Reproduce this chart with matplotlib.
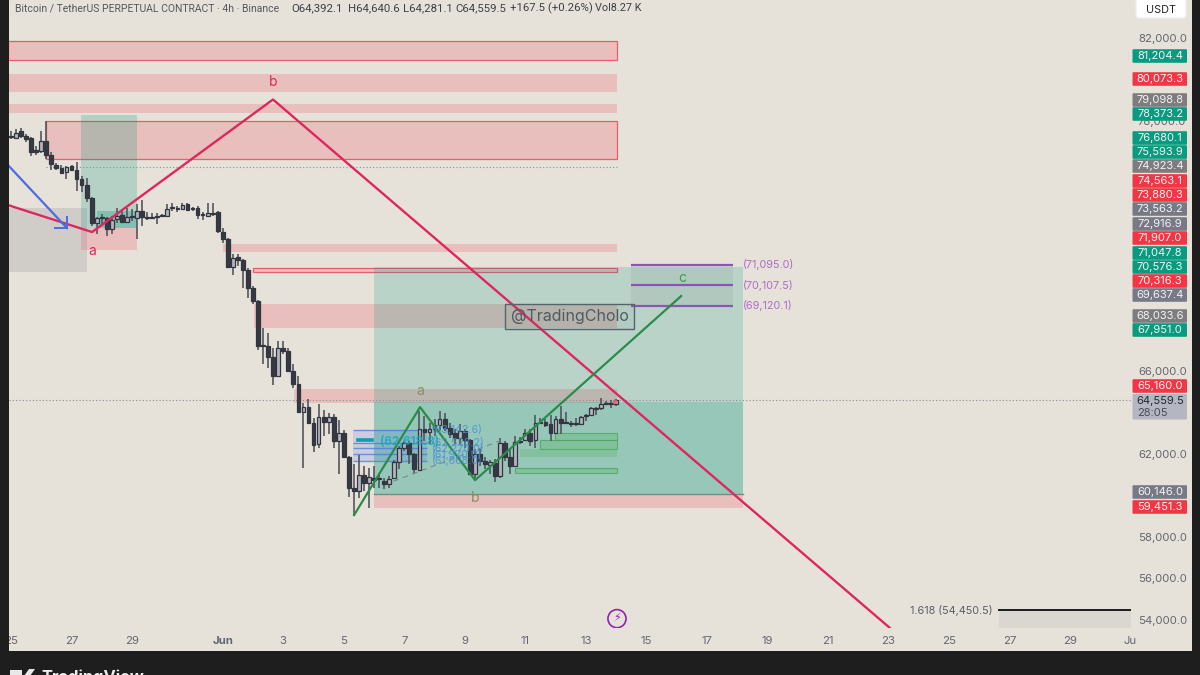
import numpy as np
import matplotlib
matplotlib.use('Agg')
import matplotlib.pyplot as plt
from matplotlib.patches import Rectangle, FancyBboxPatch, Polygon

plt.rcParams['font.family'] = ['Inter', 'DejaVu Sans']

# 4h candles, one every 1/6 day starting 25 May
opens = [77320,77225,77520,77320,77225,76650,76600,77080,76410,75920,75780,75590,75880,75685,75250,74960,74335,73130,73420,73370,
         72840,73320,73515,73180,73465,73370,73710,73420,73420,73465,73515,73465,73900,73855,73805,74045,73855,73855,73565,73465,
         73610,73660,72700,72360,71010,71490,71345,70865,69990,69370,67250,67200,66670,65755,67105,66960,65995,65370,64020,64260,
         63490,62475,63780,63540,63780,62620,63005,61855,60360,60220,60990,60600,60845,60845,60700,60555,60845,61610,62285,62525,
         61995,61230,63200,63050,63200,63395,63685,63250,63005,62765,63105,62670,61035,61995,61660,61470,61560,60940,62525,61855,
         61420,62620,62670,63005,62670,63540,63540,63440,63005,63685,63540,63490,63490,63440,63830,63875,64210,64210,64405,64455,64392.1]
highs = [77565,77660,77710,77420,77250,76840,77520,78000,76510,76020,75920,75880,75920,76070,75395,75300,74380,73420,73565,73420,
         73465,73855,73710,73855,73805,74045,74240,73660,73610,73610,73565,74045,74090,73950,74090,74090,73900,73950,73660,74090,
         74090,73680,72890,72405,71635,71635,71395,70960,70090,69415,68070,67830,67105,67440,67440,67105,66335,65755,64455,64650,
         63730,64405,64115,63970,63920,63635,63150,61900,61515,61950,61420,61325,61420,61085,60845,60940,61710,62380,62620,62620,
         62045,64065,63830,63490,63685,64065,63970,63490,63200,63440,63200,62720,62235,62235,61855,61710,61760,62765,62620,62285,
         62860,62810,63200,63200,63875,63730,63685,63875,63830,64310,64020,63590,63730,63830,63920,64260,64260,64695,64550,64600,64640.6]
lows = [77180,77180,77225,76990,76360,76410,76460,76170,75685,75640,75490,75250,75640,74670,74625,74140,72985,72600,72985,72505,
        72600,73130,73130,73130,73225,72360,72985,73275,73320,73080,73420,73420,73710,73660,73755,73710,73710,73320,73275,73420,
        73465,72650,72165,70960,70625,71060,69990,69510,69225,67010,66335,66140,65320,65700,66815,65950,65175,63970,61325,63440,
        62095,62285,62860,62960,62285,61035,61800,59930,59010,59880,60220,59400,60360,60360,60315,60360,60795,61275,62140,61515,
        61035,61180,62620,62475,62860,63105,63105,62765,62475,62475,62285,60990,60750,61420,61275,61035,60650,60845,61660,61035,
        61370,62475,62620,62380,62285,63440,63295,62620,62960,62960,63440,63295,63345,63395,63590,63830,63875,64115,64360,64210,64281.1]
closes = [77275,77470,77320,77180,76550,76550,77080,76410,75970,75780,75540,75830,75685,75250,74960,74335,73130,73370,73370,72840,
          73275,73465,73180,73420,73420,73710,73420,73370,73370,73420,73465,73805,73855,73805,74000,73755,73805,73515,73515,73610,
          73565,72745,72360,71010,71445,71345,70865,69990,69370,67200,67200,66670,65755,67105,66960,65995,65370,64020,64260,63490,
          62430,63780,63540,63780,62620,63005,61855,60360,60220,60990,60600,60890,60750,60795,60555,60795,61610,62285,62525,61995,
          61275,63200,63050,63200,63395,63685,63250,62960,62765,63105,62670,61035,61995,61660,61515,61610,60940,62525,61855,61420,
          62570,62570,63005,62620,63490,63490,63395,63005,63685,63490,63490,63440,63440,63780,63875,64210,64165,64405,64455,64405,64559.5]

# supply zones: day from, day to, top price, bottom price
zone_x0 = [-0.1, -0.1, -0.1, 1.16, 7.01, 8.0, 8.03, 9.36, 2.31, 12.0]
zone_x1 = [20.03, 20.03, 20.03, 20.03, 20.03, 20.03, 20.03, 20.03, 4.17, 24.2]
zone_top = [81900, 80265, 78865, 78000, 72120, 70960, 69225, 65130, 72890, 60070]
zone_bot = [80940, 79445, 78430, 76170, 71735, 70770, 68070, 64455, 71830, 59400]
zone_edged = [True, False, False, True, False, True, False, False, False, False]

# demand zones
green_x0 = [17.98, 17.49, 16.83, 16.66]
green_x1 = [20.03, 20.03, 20.03, 20.03]
green_top = [63005, 62670, 62235, 61325]
green_bot = [62670, 62235, 61850, 61085]
green_edged = [True, True, False, True]

# long position tool
long_days = [12.0, 24.2]
long_target = 71010
long_entry = 64505
long_stop = 60070

# older position tool on the left
old_days = [2.31, 4.17]
old_target = 78335
old_entry = 73710
old_stop = 72890
old_band_days = [2.84, 4.17]
grey_days = [-0.1, 2.51]
grey_prices = [73855, 70770]

# wave lines
pink_days = [-0.1, 2.68, 8.66, 29.06]
pink_prices = [73975, 72674, 79060, 53590]
green_days = [11.34, 13.52, 15.34, 22.15]
green_prices = [59040, 64240, 60720, 69590]
blue_days = [-0.1, 1.85]
blue_prices = [75900, 72866]
dash_days = [12.33, 16.17]
dash_prices = [60500, 62620]

# fib levels
fib_days = [11.31, 13.75]
fib_prices = [63142.6, 62528.2, 62270.0, 61970.0, 61668.0]
fib_labels = ['(63,142.6)', '(62,528.2)', '(62,270.0)', '(61,970.0)', '(61,668.0)']
target_days = [20.5, 23.87]
target_prices = [71095.0, 70107.5, 69120.1]
target_labels = ['(71,095.0)', '(70,107.5)', '(69,120.1)']
ext_days = [32.66, 37.1]
ext_price = 54450.5

last_price = 64559.5
dotted_price = 75830

# axis ticks
x_ticks = [0, 2, 4, 7, 9, 11, 13, 15, 17, 19, 21, 23, 25, 27, 29, 31, 33, 35, 37]
x_labels = ['25', '27', '29', 'Jun', '3', '5', '7', '9', '11', '13', '15', '17', '19', '21', '23', '25', '27', '29', 'Ju']
# the other round prices sit behind the price tags in the reference
y_ticks = [54000, 56000, 58000, 62000, 66000, 78000, 82000]

# price tags on the right scale
tag_values = ['81,204.4', '80,073.3', '79,098.8', '78,373.2', '76,680.1', '75,593.9', '74,923.4', '74,563.1',
              '73,880.3', '73,563.2', '72,916.9', '71,907.0', '71,047.8', '70,576.3', '70,316.3', '69,637.4',
              '68,033.6', '67,951.0', '65,160.0', '60,146.0', '59,451.3']
tag_kinds = ['g', 'r', 'n', 'g', 'g', 'g', 'n', 'r', 'r', 'b', 'b', 'r', 'g', 'g', 'r', 'b', 'n', 'g', 'r', 'b', 'r']
tag_rows = [56, 79, 100, 114, 138, 152, 166, 181, 195, 209, 224, 238, 253, 267, 281, 295, 316, 330, 386, 492, 507]

BG = '#e6e2da'
TEAL = '#089981'
RED = '#f23645'
PINK = '#e0265f'
WAVE = '#2a8c4a'
tag_colors = {'g': '#0a9a80', 'r': '#f23645', 'n': '#7d7d7f', 'b': '#777a86'}

fig = plt.figure(figsize=(12, 6.75), dpi=100, facecolor=BG)
ax = fig.add_axes([9 / 1200, 1 - 628 / 675, 1122 / 1200, 628 / 675])
ax.set_facecolor('none')
ax.set_xlim(-0.066, 37.02)
ax.set_ylim(53600, 83853)

# zones
for x0, x1, top, bot, edged in zip(zone_x0, zone_x1, zone_top, zone_bot, zone_edged):
    ax.add_patch(Rectangle((x0, bot), x1 - x0, top - bot, facecolor=RED, alpha=0.2, lw=0, zorder=1))
    if edged:
        ax.add_patch(Rectangle((x0, bot), x1 - x0, top - bot, fill=False, edgecolor='#e8475c', alpha=0.85, lw=0.9, zorder=1))

ax.add_patch(Rectangle((long_days[0], long_entry), long_days[1] - long_days[0], long_target - long_entry,
                       facecolor=TEAL, alpha=0.2, lw=0, zorder=1))
ax.add_patch(Rectangle((long_days[0], long_stop), long_days[1] - long_days[0], long_entry - long_stop,
                       facecolor=TEAL, alpha=0.36, lw=0, zorder=1))
ax.plot(long_days, [long_stop, long_stop], color='#6f8f86', lw=1, zorder=1)

ax.add_patch(Rectangle((old_days[0], old_stop), old_days[1] - old_days[0], old_target - old_stop,
                       facecolor=TEAL, alpha=0.22, lw=0, zorder=1))
ax.add_patch(Rectangle((old_band_days[0], old_stop), old_band_days[1] - old_band_days[0], old_entry - old_stop,
                       facecolor=TEAL, alpha=0.3, lw=0, zorder=1))
ax.add_patch(Rectangle((grey_days[0], grey_prices[1]), grey_days[1] - grey_days[0], grey_prices[0] - grey_prices[1],
                       facecolor='#787b86', alpha=0.2, lw=0, zorder=1))

for x0, x1, top, bot, edged in zip(green_x0, green_x1, green_top, green_bot, green_edged):
    ax.add_patch(Rectangle((x0, bot), x1 - x0, top - bot, facecolor='#4caf50', alpha=0.25, lw=0, zorder=1.2))
    if edged:
        ax.add_patch(Rectangle((x0, bot), x1 - x0, top - bot, fill=False, edgecolor='#4aa860', alpha=0.8, lw=0.8, zorder=1.2))

# fib box
ax.add_patch(Rectangle((fib_days[0], fib_prices[-1]), fib_days[1] - fib_days[0], fib_prices[0] - fib_prices[-1],
                       facecolor='#2962ff', alpha=0.15, lw=0, zorder=1.3))
ax.hlines(fib_prices, fib_days[0], fib_days[1], color='#4a78e0', lw=1, alpha=0.75, zorder=1.4)

# target box
ax.add_patch(Rectangle((target_days[0], target_prices[2]), target_days[1] - target_days[0], target_prices[0] - target_prices[2],
                       facecolor='#787b86', alpha=0.12, lw=0, zorder=1.3))
ax.hlines(target_prices, target_days[0], target_days[1], color='#8a55b5', lw=1.6, zorder=3)
for p, lab in zip(target_prices, target_labels):
    ax.text(long_days[1], p, lab, color='#b06cc8', fontsize=7.8, va='center', ha='left')

# fib extension
ax.add_patch(Rectangle((ext_days[0], 53600), ext_days[1] - ext_days[0], ext_price - 53600,
                       facecolor='#787b86', alpha=0.1, lw=0, zorder=1))
ax.plot(ext_days, [ext_price, ext_price], color='#1c1c1c', lw=1.4, zorder=3)
ax.text(ext_days[0] - 0.2, ext_price, '1.618 (54,450.5)', color='#5d5f66', fontsize=7.8, ha='right', va='center')

# dotted lines
ax.plot([1.16, 20.03], [dotted_price, dotted_price], color='#8a8c92', lw=0.8, ls=(0, (1, 2)), zorder=1.5)
ax.axhline(last_price, color='#8a8c92', lw=0.8, ls=(0, (1, 2)), zorder=1.5)

# candles
t = np.arange(len(opens)) / 6
o = np.array(opens)
c = np.array(closes)
up = c >= o
ax.vlines(t, lows, highs, color='#53565f', lw=1.2, zorder=4)
bar_w = 0.125
ax.bar(t[up], np.maximum(c[up] - o[up], 50), bar_w, bottom=o[up], color='#b4b6be', edgecolor='#33363f', lw=0.9, zorder=5)
ax.bar(t[~up], np.maximum(o[~up] - c[~up], 50), bar_w, bottom=c[~up], color='#363943', edgecolor='#33363f', lw=0.9, zorder=5)

# wave lines
ax.plot(pink_days, pink_prices, color=PINK, lw=1.7, zorder=6)
ax.plot(green_days, green_prices, color=WAVE, lw=1.6, zorder=6)
ax.plot(dash_days, dash_prices, color='#7b8a86', lw=0.8, ls=(0, (5, 4)), zorder=4)
ax.plot(blue_days, blue_prices, color='#4a6ee0', lw=1.6, zorder=6)
ax.plot([1.45, 1.85, 1.85], [72866, 72866, 73390], color='#4a6ee0', lw=1.4, zorder=6)

ax.text(2.68, 71760, 'a', color=PINK, fontsize=10, ha='center', va='center', zorder=7)
ax.text(8.66, 79900, 'b', color=PINK, fontsize=10, ha='center', va='center', zorder=7)
ax.text(13.52, 65000, 'a', color='#8b8b62', fontsize=10, ha='center', va='center', zorder=7)
ax.text(15.34, 59850, 'b', color='#8b8b62', fontsize=10, ha='center', va='center', zorder=7)
ax.text(22.2, 70450, 'c', color='#3f9a5a', fontsize=10, ha='center', va='center', zorder=7)

# fib labels
for p, lab in zip(fib_prices, fib_labels):
    ax.text(13.9, p, lab, color='#4a90d9', alpha=0.85, fontsize=7.6, ha='left', va='center', zorder=7)
ax.text(12.2, 62600, '(62,618.8)', color='#1aa5b8', fontsize=8.4, fontweight='bold', alpha=0.8, ha='left', va='center', zorder=7)
ax.plot([11.48, 11.93], [62640, 62640], color='#139bb0', lw=2.6, zorder=7)

# small marker on the last candle
ax.add_patch(Rectangle((19.9, 64400), 0.13, 200, facecolor='#f2647a', alpha=0.8, lw=0, zorder=7))

# watermark
ax.add_patch(Rectangle((16.33, 68000), 4.27, 1200, facecolor='#787b86', alpha=0.08, lw=0, zorder=7))
ax.add_patch(Rectangle((16.33, 68000), 4.27, 1200, fill=False, edgecolor='#55636a', lw=1, zorder=7))
ax.text(18.47, 68600, '@TradingCholo', color='#4f5b62', fontsize=11.5, ha='center', va='center', zorder=8)

# lightning mark
ax.scatter([20.03], [54050], s=170, facecolor='none', edgecolor='#8e24aa', lw=1.2, zorder=8)
ax.text(20.03, 54050, '\u26a1', color='#8e24aa', fontsize=8, ha='center', va='center', zorder=8,
        family=['DejaVu Sans'])

ax.set_xticks(x_ticks)
ax.set_xticklabels(x_labels)
ax.get_xticklabels()[3].set_fontweight('bold')
ax.set_yticks(y_ticks)
ax.set_yticklabels([f'{v:,.1f}' for v in y_ticks])
ax.yaxis.tick_right()
ax.tick_params(axis='both', length=0, colors='#65676f', labelsize=8.2)
ax.tick_params(axis='x', pad=6)
ax.tick_params(axis='y', pad=5)
for s in ax.spines.values():
    s.set_visible(False)

# overlay in pixels for the screen frame, header and tags
px = fig.add_axes([0, 0, 1, 1], zorder=10)
px.set_xlim(0, 1200)
px.set_ylim(675, 0)
px.axis('off')
px.patch.set_visible(False)

px.add_patch(Rectangle((0, 0), 9, 675, facecolor='#1e1e1e', lw=0))
px.add_patch(Rectangle((1192, 0), 8, 675, facecolor='#1e1e1e', lw=0))
px.add_patch(Rectangle((0, 651), 1200, 24, facecolor='#1e1e1e', lw=0))

# logo and brand, cut by the bottom edge
px.add_patch(Rectangle((10, 670), 12, 6, facecolor='#e8e8e8', lw=0))
px.add_patch(Polygon([[24, 676], [29, 669], [35, 669], [30, 676]], facecolor='#e8e8e8', lw=0))
px.text(41, 669.5, 'TradingView', color='#ededed', fontsize=11.8, fontweight='bold', va='top', ha='left', clip_on=True)

# header
px.text(15, 8, 'Bitcoin / TetherUS PERPETUAL CONTRACT \u00b7 4h \u00b7 Binance', color='#55585f', fontsize=7.5, va='center',
        family=['Roboto', 'DejaVu Sans'])
for x, s, size in zip([291, 348, 403, 455, 510, 595],
                      ['O64,392.1', 'H64,640.6', 'L64,281.1', 'C64,559.5', '+167.5 (+0.26%)', 'Vol8.27 K'],
                      [8.2, 8.2, 8.2, 8.2, 8.2, 7.8]):
    px.text(x, 8, s, color='#3d4048', fontsize=size, va='center', family=['Roboto', 'DejaVu Sans'])

# USDT box
px.add_patch(FancyBboxPatch((1136, -6), 50, 24, boxstyle='round,pad=0,rounding_size=3', facecolor='white', edgecolor='#efefef', lw=1))
px.text(1161, 10, 'USDT', color='#222428', fontsize=7.8, ha='center', va='center')

# price tags
for val, kind, row in zip(tag_values, tag_kinds, tag_rows):
    px.add_patch(FancyBboxPatch((1132.5, row - 6.8), 54.5, 13.6, boxstyle='round,pad=0,rounding_size=1',
                                facecolor=tag_colors[kind], lw=0))
    px.text(1160, row, val, color='#f4f4f4', fontsize=8, ha='center', va='center')

px.add_patch(FancyBboxPatch((1132.5, 394), 54.5, 25.5, boxstyle='round,pad=0,rounding_size=1', facecolor='#b4b7c1', lw=0))
px.text(1160, 400.5, f'{last_price:,.1f}', color='#25272d', fontsize=8, ha='center', va='center')
px.text(1152, 412.5, '28:05', color='#4a4c55', fontsize=8, ha='center', va='center')

fig.savefig('out.png', dpi=100, facecolor=BG)
